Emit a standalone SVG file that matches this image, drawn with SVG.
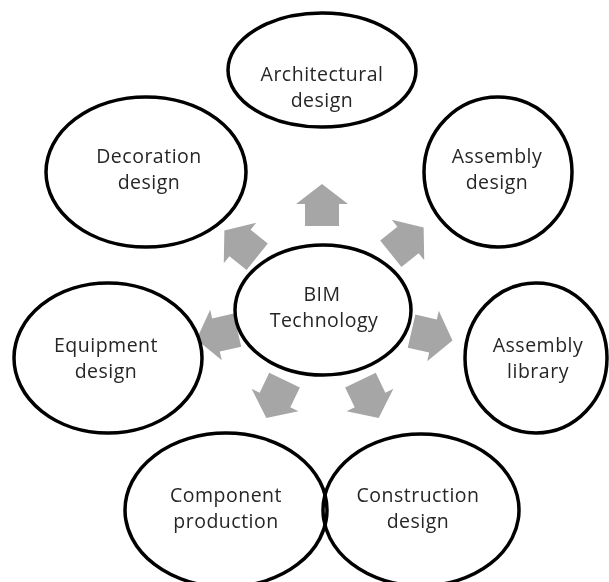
<svg xmlns="http://www.w3.org/2000/svg" width="609" height="582" viewBox="0 0 609 582">
  <style>
    .node { fill: none; stroke: #000; stroke-width: 3.5; }
    .label { font-family: "Open Sans", "Noto Sans", sans-serif; font-size: 19.5px; letter-spacing: 0.5px; fill: #262626; text-anchor: middle; }
    .arrow { fill: #a6a6a6; }
  </style>
  <defs>
    <!-- block arrow pointing along +x, centred on the origin -->
    <path id="block-arrow" d="M20,0 L0,-26 L0,-17 L-22,-17 L-22,17 L0,17 L0,26 Z"/>
    <!-- arrows stay outside the node ellipses -->
    <mask id="outside-nodes" maskUnits="userSpaceOnUse" x="0" y="0" width="609" height="582">
      <rect x="0" y="0" width="609" height="582" fill="#fff"/>
      <g fill="#000">
        <ellipse cx="322" cy="70" rx="94" ry="57"/>
        <ellipse cx="146" cy="172" rx="100" ry="75"/>
        <ellipse cx="498" cy="172" rx="74" ry="75"/>
        <ellipse cx="536" cy="358" rx="71" ry="75"/>
        <ellipse cx="108" cy="358" rx="94" ry="75"/>
        <ellipse cx="226" cy="510" rx="101" ry="77"/>
        <ellipse cx="421" cy="510" rx="98" ry="76"/>
        <ellipse cx="323" cy="310" rx="88" ry="65"/>
      </g>
    </mask>
  </defs>

  <rect x="0" y="0" width="609" height="582" fill="#fff"/>

  <!-- radial arrows from the hub to the surrounding nodes -->
  <g id="connectors" class="arrow" mask="url(#outside-nodes)">
    <use href="#block-arrow" transform="translate(322,204) rotate(-90)"/>
    <use href="#block-arrow" transform="translate(408,240) rotate(-38.6)"/>
    <use href="#block-arrow" transform="translate(433,336) rotate(12.9)"/>
    <use href="#block-arrow" transform="translate(370,400) rotate(64.3)"/>
    <use href="#block-arrow" transform="translate(275,400) rotate(115.7)"/>
    <use href="#block-arrow" transform="translate(216,335) rotate(167.1)"/>
    <use href="#block-arrow" transform="translate(240,243) rotate(-141.4)"/>
  </g>

  <g id="node-architectural">
    <ellipse class="node" cx="322" cy="70" rx="94" ry="57"/>
    <text class="label" x="322" y="81">Architectural</text>
    <text class="label" x="322" y="107">design</text>
  </g>

  <g id="node-decoration">
    <ellipse class="node" cx="146" cy="172" rx="100" ry="75"/>
    <text class="label" x="149" y="163">Decoration</text>
    <text class="label" x="149" y="189">design</text>
  </g>

  <g id="node-assembly-design">
    <ellipse class="node" cx="498" cy="172" rx="74" ry="75"/>
    <text class="label" x="497" y="163">Assembly</text>
    <text class="label" x="497" y="189">design</text>
  </g>

  <g id="node-assembly-library">
    <ellipse class="node" cx="536" cy="358" rx="71" ry="75"/>
    <text class="label" x="538" y="352">Assembly</text>
    <text class="label" x="538" y="378">library</text>
  </g>

  <g id="node-equipment">
    <ellipse class="node" cx="108" cy="358" rx="94" ry="75"/>
    <text class="label" x="106" y="352">Equipment</text>
    <text class="label" x="106" y="378">design</text>
  </g>

  <g id="node-component">
    <ellipse class="node" cx="226" cy="510" rx="101" ry="77"/>
    <text class="label" x="226" y="502">Component</text>
    <text class="label" x="226" y="528">production</text>
  </g>

  <g id="node-construction">
    <ellipse class="node" cx="421" cy="510" rx="98" ry="76"/>
    <text class="label" x="418" y="502">Construction</text>
    <text class="label" x="418" y="528">design</text>
  </g>

  <g id="node-bim">
    <ellipse class="node" cx="323" cy="310" rx="88" ry="65"/>
    <text class="label" x="322" y="301">BIM</text>
    <text class="label" x="324" y="327">Technology</text>
  </g>
</svg>
